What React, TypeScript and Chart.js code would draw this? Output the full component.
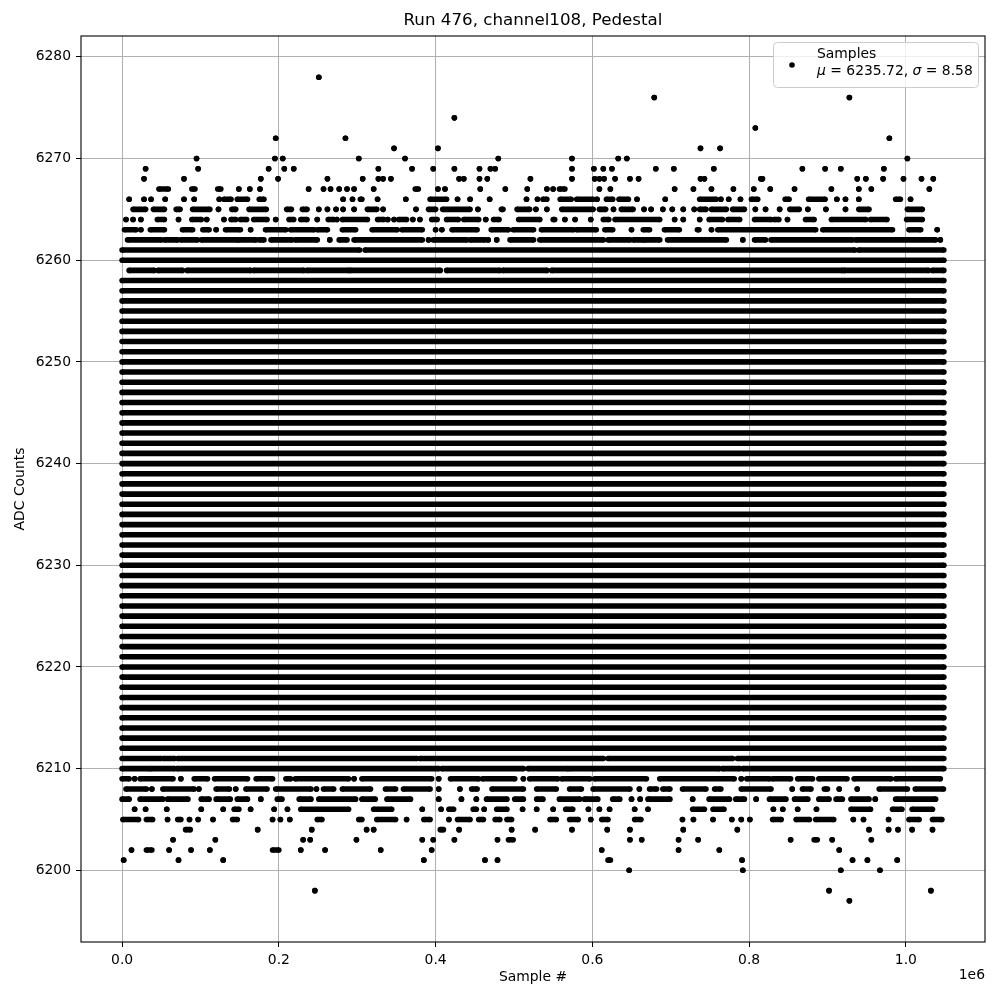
import React, { useEffect, useRef } from "react";
import { Chart, registerables } from "chart.js";

Chart.register(...registerables);

// Samples are in thousands (k) along x; total sample count is 2^20.
const firstSample = 0;
const lastSample = 1048575;
const xTicks = [0, 200000, 400000, 600000, 800000, 1000000];
const xTickLabels = ["0.0", "0.2", "0.4", "0.6", "0.8", "1.0"];
const yTicks = [6200, 6210, 6220, 6230, 6240, 6250, 6260, 6270, 6280];

// ADC levels that are populated across the entire run
const solidLevels = [
  6212, 6213, 6214, 6215, 6216, 6217, 6218, 6219, 6220, 6221, 6222, 6223,
  6224, 6225, 6226, 6227, 6228, 6229, 6230, 6231, 6232, 6233, 6234, 6235,
  6236, 6237, 6238, 6239, 6240, 6241, 6242, 6243, 6244, 6245, 6246, 6247,
  6248, 6249, 6250, 6251, 6252, 6253, 6254, 6255, 6256, 6257, 6258, 6260,
];

// Sparse levels: runs of samples [startK, endK] or single samples [k]
const row6278 = [[251]];
const row6276 = [[679], [928]];
const row6274 = [[424]];
const row6273 = [[808]];
const row6272 = [[196], [285], [979]];
const row6271 = [[347], [403], [738], [763]];
const row6270 = [[95], [195], [205], [302], [361], [480], [574], [633], [644], [1002]];
const row6269 = [[30], [97], [187], [207], [219], [327], [370], [397], [424], [456], [470], [476], [574], [602], [614], [625], [681], [704], [755], [868], [897], [917], [972]];
const row6268 = [[28], [79], [177], [199], [262], [307], [327], [333], [343], [430], [436], [456], [466], [521], [574], [603], [609], [615], [629], [648], [659], [738], [743], [815], [817], [938], [949], [971], [997], [1020], [1035]];
const row6267 = [[47, 59], [89, 93], [122, 126], [149], [163], [176], [238], [257], [266], [277], [287], [296], [321], [374, 378], [403], [412], [457], [489], [517], [542], [550], [558, 565], [609], [623], [705], [729], [752], [780], [806], [827], [858], [905], [940], [956], [1030]];
const row6266 = [[9], [28], [37], [55], [79], [92], [124], [130, 139], [147, 160], [175, 181], [282], [294], [304, 306], [326], [362], [393, 414], [428], [444], [469], [516], [530], [537, 542], [559, 573], [580, 601], [606], [618, 626], [634, 646], [657], [693], [737, 758], [764], [774], [789], [803, 811], [846, 851], [876, 897], [912], [923], [940], [987, 993], [1006]];
const row6265 = [[14, 30], [40, 54], [69, 74], [90, 112], [123], [140, 145], [162, 184], [210, 216], [230, 236], [251], [262], [273], [282], [296], [313, 325], [333], [375], [391, 400], [409, 444], [454], [484, 486], [504, 520], [528], [542], [561, 601], [609, 617], [627], [637, 652], [666], [675], [690], [702], [716], [730], [737, 745], [752, 771], [779, 794], [808], [821], [839], [852, 864], [875], [898], [923], [940, 953], [1002, 1021]];
const row6264 = [[5], [14], [24], [45, 54], [72], [89, 101], [108], [130], [139, 145], [151, 159], [168, 185], [196], [213, 219], [228, 236], [249], [263, 270], [274], [281, 313], [326, 334], [339], [347], [353, 363], [371], [380], [395, 402], [414, 429], [436, 455], [464], [474, 481], [506, 533], [550, 552], [565], [578], [598], [614, 621], [629, 686], [705], [716], [737], [749, 766], [773, 788], [807, 828], [832, 838], [849], [872, 883], [905, 949], [955, 976], [1001, 1021]];
const row6263 = [[3, 18], [24], [36, 54], [77, 90], [103, 111], [120], [132, 151], [164], [183, 209], [215, 245], [249, 262], [281, 298], [319, 351], [357, 383], [400], [408], [421, 453], [471, 493], [499, 525], [535, 576], [580, 605], [616, 626], [650], [665, 673], [692, 711], [734, 736], [752], [760, 885], [894, 983], [1004, 1019], [1040]];
const row6262 = [[7, 50], [54, 71], [75, 96], [101, 147], [149, 171], [175, 181], [190, 217], [221, 249], [265], [277, 287], [296, 383], [391], [397, 440], [444, 463], [467], [478], [495, 525], [533, 614], [620, 648], [652, 665], [667, 686], [696, 771], [792], [807, 821], [828, 932], [936, 1038], [1044]];
const row6261 = [[0, 303], [310, 935], [940, 1048.5]];
const row6259 = [[9, 41], [46, 77], [83, 164], [168, 232], [236, 289], [291, 406], [414, 482], [486, 542], [548, 919], [921, 1029], [1034, 1048.5]];
const row6211 = [[0, 50], [53, 67], [71, 376], [380, 614], [620, 779], [785, 1048.5]];
const row6210 = [[0, 35], [37, 67], [70, 404], [408, 512], [518, 569], [571, 601], [603, 762], [766, 788], [792, 1048.5]];
const row6209 = [[0, 9], [16], [23, 65], [75], [92, 109], [118, 160], [171, 192], [209, 215], [221, 289], [296], [306, 395], [404], [419, 455], [460, 501], [512], [520, 556], [561, 597], [603, 669], [686, 781], [790], [797, 826], [830, 853], [862, 881], [889, 925], [934, 981], [987, 1044]];
const row6208 = [[5, 31], [38], [52, 92], [98], [120, 137], [145], [158, 185], [196, 241], [248], [257, 270], [281, 317], [336, 349], [359, 393], [404], [431], [446, 453], [472, 512], [529, 554], [571, 586], [601, 648], [660], [673, 682], [690, 699], [715, 745], [756, 764], [790, 828], [855], [868, 879], [896, 900], [915], [938], [966, 1002], [1012, 1048]];
const row6207 = [[0, 9], [23, 52], [58, 84], [101, 111], [120, 138], [147, 160], [177], [198, 204], [226, 241], [251, 298], [306, 323], [338, 368], [404], [433], [452], [465, 491], [501, 512], [529, 537], [558, 584], [590, 607], [626, 635], [650], [661], [671, 699], [728], [749, 775], [783, 794], [809], [826, 847], [858, 875], [889, 902], [911, 919], [930, 953], [961], [987, 1038]];
const row6206 = [[16], [30], [57], [101], [129], [143, 149], [164], [194], [211], [228, 289], [321, 344], [383], [407], [417, 423], [448, 452], [462], [478, 491], [511], [529], [550], [566, 575], [595], [609], [622], [654], [671], [728, 743], [754, 768], [831], [843], [862], [886], [930, 955], [983, 995], [1008, 1034]];
const row6205 = [[1, 21], [31, 39], [58], [71, 75], [86], [97], [116], [141, 147], [192], [202], [214], [249, 255], [302, 306], [325, 349], [363], [385, 393], [417], [428, 444], [455, 461], [476, 482], [491, 497], [546, 554], [571, 582], [598], [612, 620], [654, 662], [715], [729], [754], [778], [790], [801], [830, 841], [860, 877], [885, 908], [933], [946], [978], [1004, 1017], [1034, 1046]];
const row6204 = [[81, 87], [173], [242], [312], [321], [406, 410], [430], [497], [527], [574], [619], [648], [716], [785], [953], [978], [990], [1008], [1034]];
const row6203 = [[65], [119], [231], [240], [299], [383], [397], [424], [479], [493, 499], [648], [663], [710], [735], [853], [883, 887], [906], [956]];
const row6202 = [[12], [31, 38], [60], [88], [112], [192, 200], [228], [259], [330], [395], [612], [710], [762], [915]];
const row6201 = [[2], [72], [129], [385], [463], [479], [620, 623], [791], [932], [951], [989]];
const row6200 = [[647], [792], [917], [967]];
const row6198 = [[246], [902], [1032]];
const row6197 = [[928]];

const sparseRows: [number, number[][]][] = [
  [6278, row6278], [6276, row6276], [6274, row6274], [6273, row6273],
  [6272, row6272], [6271, row6271], [6270, row6270], [6269, row6269],
  [6268, row6268], [6267, row6267], [6266, row6266], [6265, row6265],
  [6264, row6264], [6263, row6263], [6262, row6262], [6261, row6261],
  [6259, row6259], [6211, row6211], [6210, row6210], [6209, row6209],
  [6208, row6208], [6207, row6207], [6206, row6206], [6205, row6205],
  [6204, row6204], [6203, row6203], [6202, row6202], [6201, row6201],
  [6200, row6200], [6198, row6198], [6197, row6197],
];

const titleText = "Run 476, channel108, Pedestal";
const xLabel = "Sample #";
const yLabel = "ADC Counts";
const legendName = "Samples";
const muValue = "6235.72";
const sigmaValue = "8.58";

const FONT = '"DejaVu Sans", "Liberation Sans", sans-serif';
const DOT_R = 2.8;

function buildPoints() {
  const pts: { x: number; y: number | null }[] = [];
  const minV = Math.min(...solidLevels, ...sparseRows.map((r) => r[0]));
  const maxV = Math.max(...solidLevels, ...sparseRows.map((r) => r[0]));
  for (const lvl of solidLevels) {
    pts.push({ x: firstSample, y: lvl });
    pts.push({ x: lastSample, y: lvl });
    pts.push({ x: lastSample, y: null });
  }
  for (const [lvl, runs] of sparseRows) {
    for (const run of runs) {
      const a = run[0] * 1000;
      const b = (run.length > 1 ? run[1] : run[0]) * 1000;
      pts.push({ x: a, y: lvl });
      pts.push({ x: b, y: lvl });
      pts.push({ x: b, y: null });
    }
  }
  return { pts, minV, maxV };
}

const decoPlugin = {
  id: "deco",
  afterDraw(chart: any) {
    const { ctx, chartArea: a } = chart;
    ctx.save();
    // frame
    ctx.strokeStyle = "#000";
    ctx.lineWidth = 1.1;
    ctx.strokeRect(a.left, a.top, a.right - a.left, a.bottom - a.top);

    ctx.fillStyle = "#000";
    // title
    ctx.font = `16.7px ${FONT}`;
    ctx.textAlign = "center";
    ctx.textBaseline = "middle";
    ctx.fillText(titleText, (a.left + a.right) / 2, 21);
    // x label
    ctx.font = `13.9px ${FONT}`;
    ctx.fillText(xLabel, (a.left + a.right) / 2, 977);
    // offset text
    ctx.textAlign = "right";
    ctx.fillText("1e6", a.right, 975);
    // y label
    ctx.save();
    ctx.translate(20, (a.top + a.bottom) / 2);
    ctx.rotate(-Math.PI / 2);
    ctx.textAlign = "center";
    ctx.fillText(yLabel, 0, 0);
    ctx.restore();

    // legend
    const lx = 773, ly = 42, lw = 205, lh = 45;
    ctx.beginPath();
    (ctx as any).roundRect(lx + 0.5, ly + 0.5, lw, lh, 4);
    ctx.fillStyle = "rgba(255,255,255,0.8)";
    ctx.fill();
    ctx.strokeStyle = "#cccccc";
    ctx.lineWidth = 1;
    ctx.stroke();
    ctx.fillStyle = "#000";
    ctx.beginPath();
    ctx.arc(792, 65, DOT_R, 0, Math.PI * 2);
    ctx.fill();
    ctx.textAlign = "left";
    ctx.textBaseline = "middle";
    ctx.font = `13.9px ${FONT}`;
    ctx.fillText(legendName, 817, 54);
    const parts: [string, boolean][] = [
      ["\u03bc", true],
      [" = " + muValue + ", ", false],
      ["\u03c3", true],
      [" = " + sigmaValue, false],
    ];
    let tx = 817;
    for (const [t, it] of parts) {
      ctx.font = `${it ? "italic " : ""}13.9px ${FONT}`;
      ctx.fillText(t, tx, 71);
      tx += ctx.measureText(t).width;
    }
    ctx.restore();
  },
};

export default function App() {
  const ref = useRef<HTMLCanvasElement | null>(null);
  useEffect(() => {
    if (!ref.current) return;
    const { pts, minV, maxV } = buildPoints();
    const xPad = (lastSample - firstSample) * 0.05;
    const yPad = (maxV - minV) * 0.05;
    const chart = new Chart(ref.current, {
      type: "line",
      data: {
        datasets: [
          {
            label: legendName,
            data: pts as any,
            borderColor: "#000",
            backgroundColor: "#000",
            borderWidth: DOT_R * 2,
            borderCapStyle: "butt",
            pointRadius: DOT_R,
            pointBorderWidth: 0,
            pointBackgroundColor: "#000",
            pointHoverRadius: DOT_R,
            tension: 0,
            spanGaps: false,
            fill: false,
          },
        ],
      },
      options: {
        responsive: false,
        animation: false,
        events: [],
        layout: { padding: { left: 0, top: 36, right: 15, bottom: 0 } },
        plugins: {
          legend: { display: false },
          title: { display: false },
          tooltip: { enabled: false },
        },
        scales: {
          x: {
            type: "linear",
            min: firstSample - xPad,
            max: lastSample + xPad,
            afterBuildTicks: (s: any) => {
              s.ticks = xTicks.map((v) => ({ value: v }));
            },
            afterFit: (s: any) => {
              s.height = 58;
            },
            ticks: {
              callback: (_v: any, i: number) => xTickLabels[i],
              font: { family: FONT, size: 13.9 },
              color: "#000",
              padding: 5,
              maxRotation: 0,
            },
            grid: {
              color: "#b0b0b0",
              lineWidth: 1,
              tickColor: "#000",
              tickLength: 5,
              drawTicks: true,
            },
            border: { display: false },
          },
          y: {
            type: "linear",
            min: minV - yPad,
            max: maxV + yPad,
            afterBuildTicks: (s: any) => {
              s.ticks = yTicks.map((v) => ({ value: v }));
            },
            afterFit: (s: any) => {
              s.width = 81;
            },
            ticks: {
              callback: (v: any) => String(v),
              font: { family: FONT, size: 13.9 },
              color: "#000",
              padding: 5,
            },
            grid: {
              color: "#b0b0b0",
              lineWidth: 1,
              tickColor: "#000",
              tickLength: 5,
              drawTicks: true,
            },
            border: { display: false },
          },
        },
      },
      plugins: [decoPlugin],
    });
    return () => chart.destroy();
  }, []);
  return (
    <div style={{ position: "absolute", left: 0, top: 0, width: 1000, height: 1000, background: "#fff" }}>
      <canvas ref={ref} width={1000} height={1000} style={{ width: 1000, height: 1000, display: "block" }} />
    </div>
  );
}
